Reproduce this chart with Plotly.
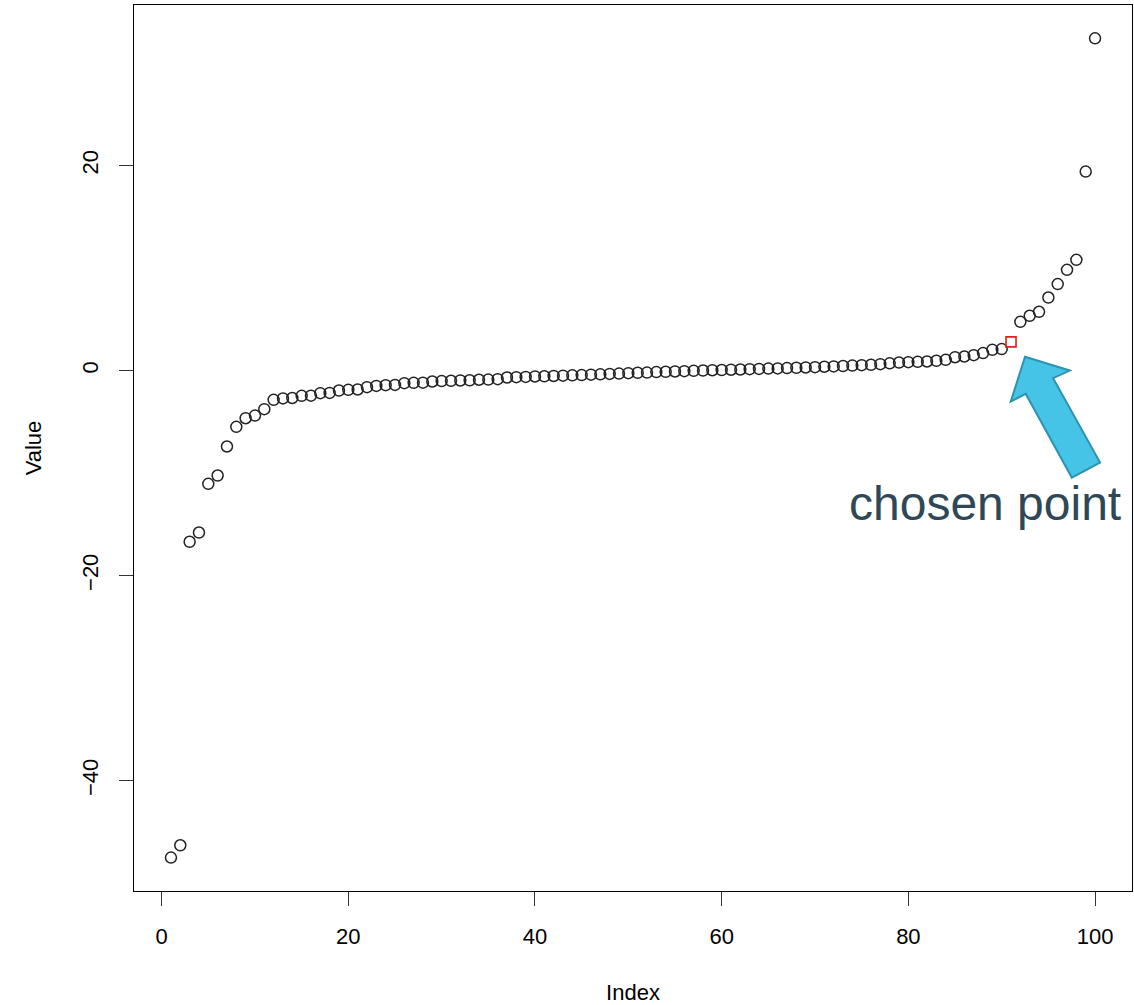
import plotly.graph_objects as go

values = [
    -47.5, -46.3, -16.7, -15.8, -11.05, -10.24, -7.41, -5.49, -4.65, -4.39,
    -3.77, -2.86, -2.72, -2.68, -2.47, -2.45, -2.21, -2.18, -1.95, -1.88,
    -1.85, -1.62, -1.50, -1.43, -1.40, -1.23, -1.20, -1.18, -1.07, -1.03,
    -1.00, -0.97, -0.95, -0.90, -0.88, -0.84, -0.68, -0.65, -0.62, -0.58,
    -0.56, -0.53, -0.50, -0.47, -0.44, -0.40, -0.37, -0.33, -0.30, -0.26,
    -0.22, -0.20, -0.15, -0.12, -0.09, -0.06, -0.03, 0.00, 0.03, 0.05,
    0.08, 0.10, 0.13, 0.16, 0.19, 0.21, 0.24, 0.27, 0.30, 0.33,
    0.37, 0.40, 0.44, 0.48, 0.52, 0.56, 0.62, 0.70, 0.78, 0.82,
    0.85, 0.88, 0.95, 1.04, 1.30, 1.37, 1.50, 1.70, 2.02, 2.09,
    2.80, 4.75, 5.34, 5.73, 7.12, 8.43, 9.82, 10.80, 19.40, 32.40,
]
index = list(range(1, len(values) + 1))
chosen_index = 91
x_ticks = [0, 20, 40, 60, 80, 100]
y_ticks = [-40, -20, 0, 20]
annotation_text = "chosen point"

other_x = [i for i in index if i != chosen_index]
other_y = [v for i, v in zip(index, values) if i != chosen_index]

fig = go.Figure()
fig.add_trace(go.Scatter(
    x=other_x, y=other_y, mode="markers",
    marker=dict(symbol="circle-open", size=11, color="#222222", line=dict(width=1.5)),
    showlegend=False, hoverinfo="x+y",
))
fig.add_trace(go.Scatter(
    x=[chosen_index], y=[values[chosen_index - 1]], mode="markers",
    marker=dict(symbol="square-open", size=10, color="#e0201b", line=dict(width=1.6)),
    showlegend=False, hoverinfo="x+y",
))

# arrow (annotation graphic) in data coordinates
arrow = [(92.50, 1.34), (97.29, 0.0), (95.51, -0.74), (100.54, -8.98),
         (97.51, -10.44), (92.58, -2.28), (90.97, -3.03)]
path = "M " + " L ".join(f"{x},{y}" for x, y in arrow) + " Z"
fig.add_shape(type="path", path=path, xref="x", yref="y",
              fillcolor="#45C4E8", line=dict(color="#2D93AE", width=2))

W, H = 1134, 1005
L, R, T, B = 134, 2, 5, 114
pw, ph = W - L - R, H - T - B

fig.add_annotation(
    x=(1123 - L) / pw, y=(H - B - 503) / ph, xref="paper", yref="paper",
    text=annotation_text, showarrow=False,
    font=dict(family="Liberation Sans, Arial", size=48, color="#2F4858"),
    xanchor="right", yanchor="middle",
)

fig.update_layout(
    width=W, height=H,
    margin=dict(l=L, r=R, t=T, b=B),
    paper_bgcolor="white", plot_bgcolor="white",
    font=dict(family="Liberation Sans, Arial", size=22, color="black"),
    xaxis=dict(
        range=[-2.96, 103.96], tickvals=x_ticks, ticks="outside", ticklen=14,
        tickwidth=1, tickcolor="#333333", showgrid=False, zeroline=False,
        showline=True, linecolor="black", linewidth=1, mirror=True,
        title=dict(text="Index", font=dict(size=22), standoff=37),
        ticklabelstandoff=12,
    ),
    yaxis=dict(
        range=[-50.76, 35.65], tickvals=y_ticks, ticks="outside", ticklen=14,
        tickwidth=1, tickcolor="#333333", showgrid=False, zeroline=False,
        showline=True, linecolor="black", linewidth=1, mirror=True,
        tickangle=-90,
        title=dict(text="Value", font=dict(size=22), standoff=30),
        ticklabelstandoff=12,
    ),
)

fig.write_html("out.html")
